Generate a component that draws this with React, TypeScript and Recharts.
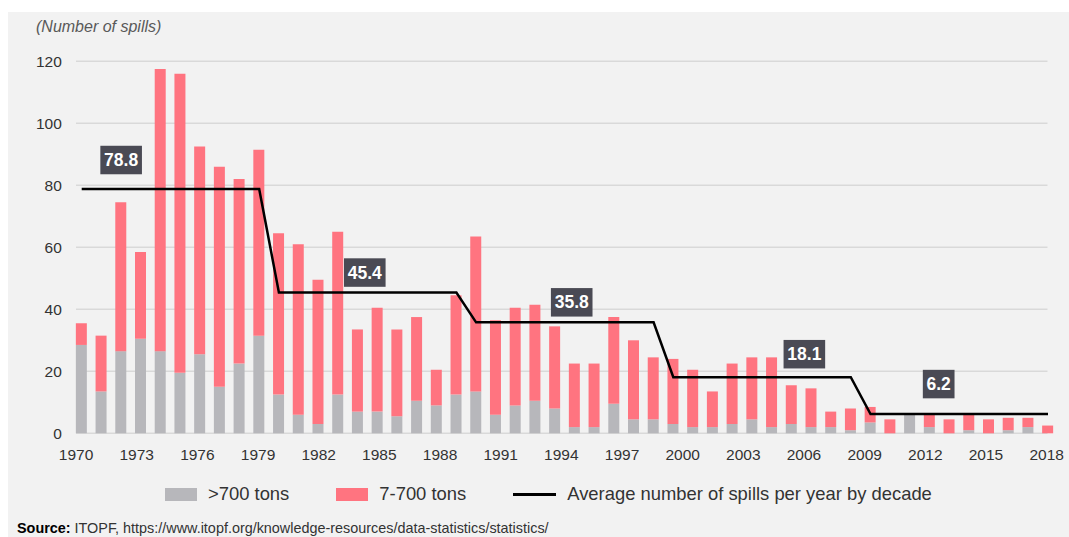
import { BarChart, Bar, Line, XAxis, YAxis, CartesianGrid, LabelList } from "recharts";

const years = [
  1970, 1971, 1972, 1973, 1974, 1975, 1976, 1977, 1978, 1979,
  1980, 1981, 1982, 1983, 1984, 1985, 1986, 1987, 1988, 1989,
  1990, 1991, 1992, 1993, 1994, 1995, 1996, 1997, 1998, 1999,
  2000, 2001, 2002, 2003, 2004, 2005, 2006, 2007, 2008, 2009,
  2010, 2011, 2012, 2013, 2014, 2015, 2016, 2017, 2018, 2019,
];

// >700 tons
const largeSpills = [
  28.5, 13.5, 26.5, 30.5, 26.5, 19.5, 25.5, 15, 22.5, 31.5,
  12.5, 6, 3, 12.5, 7, 7, 5.5, 10.5, 9, 12.5,
  13.5, 6, 9, 10.5, 8, 2, 2, 9.5, 4.5, 4.5,
  3, 2, 2, 3, 4.5, 2, 3, 2, 2, 1,
  3.5, 0, 6, 2, 0, 1, 0, 1, 2, 0,
];

// 7-700 tons
const mediumSpills = [
  7, 18, 48, 28, 91, 96.5, 67, 71, 59.5, 60,
  52, 55, 46.5, 52.5, 26.5, 33.5, 28, 27, 11.5, 32,
  50, 30.5, 31.5, 31, 26.5, 20.5, 20.5, 28, 25.5, 20,
  21, 18.5, 11.5, 19.5, 20, 22.5, 12.5, 12.5, 5, 7,
  5, 4.5, 0, 4, 4.5, 5, 4.5, 4, 3, 2.5,
];

const decadeStarts = [1970, 1980, 1990, 2000, 2010];
const decadeAverages = [78.8, 45.4, 35.8, 18.1, 6.2];
const avgLabelYears = [1972, 1984, 1995, 2007, 2013];

const yTicks = [0, 20, 40, 60, 80, 100, 120];
const xLabelTicks = [1970, 1973, 1976, 1979, 1982, 1985, 1988, 1991, 1994, 1997, 2000, 2003, 2006, 2009, 2012, 2015, 2018];

const data = years.map((year, i) => {
  const d = decadeStarts.filter((s) => s <= year).length - 1;
  return { year, large: largeSpills[i], medium: mediumSpills[i], avg: decadeAverages[d] };
});

const FONT = "'Liberation Sans', Arial, sans-serif";
const GRAY = "#b7b7bb";
const PINK = "#ff7480";

// pixel nudges for the value boxes, relative to the line point
const labelShift = [
  [0, -29],
  [7, -20],
  [-3, -20],
  [-7, -23],
  [9, -30],
];

function AvgLabel(props: any) {
  const { x, y, index } = props;
  const k = avgLabelYears.indexOf(years[index]);
  if (k < 0) return null;
  const text = decadeAverages[k].toFixed(1);
  const [dx, dy] = labelShift[k];
  const w = text.length * 9.9 + 2;
  const h = 28.5;
  const cx = x + dx;
  const cy = y + dy;
  return (
    <g>
      <rect x={cx - w / 2} y={cy - h / 2} width={w} height={h} fill="#4a4a54" />
      <text x={cx} y={cy} textAnchor="middle" dominantBaseline="central" fill="#fff" fontSize={17.5} fontWeight="bold" fontFamily={FONT}>
        {text}
      </text>
    </g>
  );
}

function Swatch({ color, w = 32, h = 13 }: { color: string; w?: number; h?: number }) {
  return <span style={{ display: "inline-block", width: w, height: h, background: color, marginRight: 11 }} />;
}

export default function App() {
  return (
    <div style={{ position: "fixed", left: 8, top: 12, width: 1061, height: 525, background: "#f2f2f2", fontFamily: FONT }}>
      <div style={{ position: "absolute", left: 28, top: 6, fontSize: 16, lineHeight: "18px", fontStyle: "italic", color: "#595959" }}>
        (Number of spills)
      </div>

      <BarChart
        width={1061}
        height={470}
        data={data}
        margin={{ top: 49.3, right: 11.14, left: 0, bottom: 18.7 }}
        style={{ position: "absolute", left: 0, top: 0 }}
      >
        <CartesianGrid horizontal vertical={false} x={68} width={971.5} stroke="#d9d9d9" strokeWidth={1.5} />
        <XAxis xAxisId="cat" dataKey="year" hide height={0} />
        <XAxis
          xAxisId="lab"
          type="number"
          dataKey="year"
          domain={[1970, 2018]}
          allowDataOverflow
          ticks={xLabelTicks}
          interval={0}
          padding={{ left: 4.2, right: 11.2 }}
          axisLine={false}
          tickLine={false}
          tickSize={0}
          tickMargin={15.5}
          height={30}
          tick={{ fill: "#333", fontSize: 15.5, fontFamily: FONT }}
        />
        <YAxis
          width={63.84}
          domain={[0, 120]}
          ticks={yTicks}
          interval={0}
          axisLine={false}
          tickLine={false}
          tickSize={0}
          tickMargin={10}
          tick={{ fill: "#333", fontSize: 15.5, fontFamily: FONT }}
        />
        <Bar xAxisId="cat" dataKey="large" stackId="s" fill={GRAY} barSize={11} isAnimationActive={false} />
        <Bar xAxisId="cat" dataKey="medium" stackId="s" fill={PINK} barSize={11} isAnimationActive={false} />
        <Line xAxisId="cat" type="linear" dataKey="avg" stroke="#000" strokeWidth={2.5} dot={false} isAnimationActive={false}>
          <LabelList dataKey="avg" content={<AvgLabel />} />
        </Line>
      </BarChart>

      <div style={{ position: "absolute", left: 157, top: 471, height: 22, display: "flex", alignItems: "center", fontSize: 18.4, color: "#333", whiteSpace: "nowrap" }}>
        <Swatch color={GRAY} />
        <span style={{ marginRight: 47 }}>&gt;700 tons</span>
        <Swatch color={PINK} />
        <span style={{ marginRight: 47 }}>7-700 tons</span>
        <Swatch color="#000" w={43} h={3} />
        <span>Average number of spills per year by decade</span>
      </div>

      <div style={{ position: "absolute", left: 9, top: 508, fontSize: 14.4, lineHeight: "16px", color: "#333", whiteSpace: "nowrap" }}>
        <b style={{ color: "#000" }}>Source:</b> ITOPF, https://www.itopf.org/knowledge-resources/data-statistics/statistics/
      </div>
    </div>
  );
}
